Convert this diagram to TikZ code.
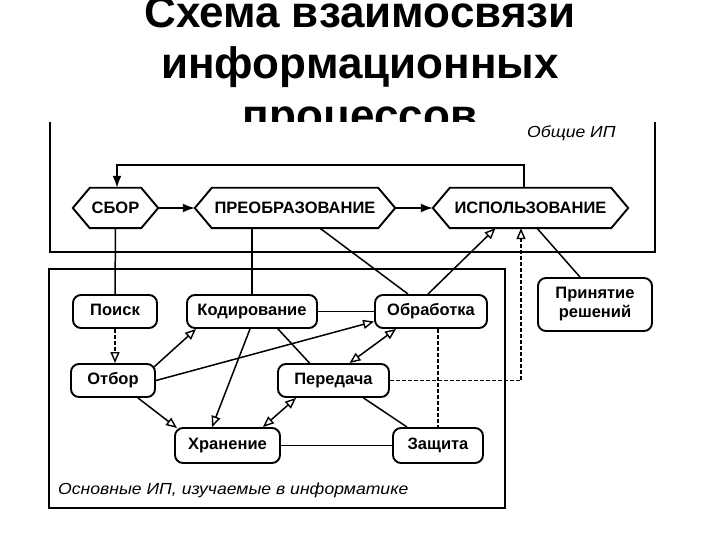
\documentclass[tikz,border=0pt]{standalone}
\usepackage{fontspec}
\usepackage{graphicx}
\setmainfont{Liberation Sans}
\usetikzlibrary{arrows.meta,calc}
\newcommand\wide[1]{\scalebox{1.1}[1]{#1}}
\tikzset{
  rbox/.style={draw, line width=1.9pt, rounded corners=8pt, inner sep=0pt,
    font=\bfseries\fontsize{16.5}{19}\selectfont},
  sbox/.style={rbox, text height=12pt, text depth=3.5pt},
  hexbox/.style={inner sep=0pt, minimum height=40pt,
    font=\bfseries\fontsize{16.5}{19}\selectfont},
  hexline/.style={line width=1.9pt, line join=miter},
  conn/.style={line width=1.5pt},
  dconn/.style={line width=1.5pt, dash pattern=on 4pt off 2pt},
  farrow/.style={-{Latex[length=12pt,width=9pt]}},
  oarrow/.style={-{Triangle[open,length=11pt,width=9pt,line width=1.4pt]}},
  darrow/.style={{Triangle[open,length=11pt,width=9pt,line width=1.4pt]}-{Triangle[open,length=11pt,width=9pt,line width=1.4pt]}},
  frame/.style={line width=2pt},
  boxlabel/.style={font=\itshape\fontsize{16}{18}\selectfont, inner sep=0pt},
  titlefont/.style={font=\bfseries\fontsize{44}{52}\selectfont, inner sep=0pt, anchor=base}
}
\newcommand\hexoutline[1]{%
  \draw[hexline] (#1.west) -- ($(#1.north west)+(17,0)$) -- ($(#1.north east)+(-17,0)$)
    -- (#1.east) -- ($(#1.south east)+(-17,0)$) -- ($(#1.south west)+(17,0)$) -- cycle;}
\begin{document}
\begin{tikzpicture}[x=1pt,y=-1pt]
\useasboundingbox (0,0) rectangle (720,540);
% title
\node[titlefont] (t1) at (360,28) {Схема взаимосвязи};
\node[titlefont] (t2) at (360,79) {информационных};
\node[titlefont] (t3) at (360,131) {процессов};
% white picture area covering the title bottom
\fill[white] (44,122) rectangle (668,525);
% frames
\draw[frame] (50,122) -- (50,252) -- (655,252) -- (655,122);
\draw[frame] (49,269) rectangle (505,508);
\node[boxlabel, anchor=west] (lab1) at (527,133) {\wide{Общие ИП}};
\node[boxlabel, anchor=west] (lab2) at (58,490) {\wide{Основные ИП, изучаемые в информатике}};
% hexagons
\node[hexbox, minimum width=85pt] (sbor) at (115.5,208) {СБОР};
\node[hexbox, minimum width=200pt] (preob) at (295,208) {ПРЕОБРАЗОВАНИЕ};
\node[hexbox, minimum width=195pt] (isp) at (530.5,208) {ИСПОЛЬЗОВАНИЕ};
\hexoutline{sbor}
\hexoutline{preob}
\hexoutline{isp}
% rounded boxes
\node[sbox, minimum width=84pt, minimum height=33pt] (poisk) at (115,311.5) {Поиск};
\node[sbox, minimum width=130pt, minimum height=33pt] (kod) at (252,311.5) {Кодирование};
\node[sbox, minimum width=112pt, minimum height=33pt] (obr) at (431,311.5) {Обработка};
\node[sbox, minimum width=84pt, minimum height=33pt] (otbor) at (113,380.5) {Отбор};
\node[sbox, minimum width=111pt, minimum height=33pt] (pered) at (333.5,380.5) {Передача};
\node[sbox, minimum width=105pt, minimum height=35pt] (hran) at (227.5,445.5) {Хранение};
\node[sbox, minimum width=90pt, minimum height=35pt] (zasch) at (438,445.5) {Защита};
\node[rbox, align=center, minimum width=114pt, minimum height=53pt] (prin) at (595,304.5) {Принятие\\решений};
% top-level connectors
\draw[conn, farrow] (sbor.east) -- (preob.west);
\draw[conn, farrow] (preob.east) -- (isp.west);
\draw[conn, line width=1.9pt, farrow] ($(isp.north)+(-6.5,0)$) -- ++(0,-23) -| ($(sbor.north)+(1.5,0)$);
\draw[conn] (sbor.south) -- (poisk.north);
\draw[conn] (kod.north |- preob.south) -- (kod.north);
\draw[conn] ($(preob.south)+(25,0)$) -- ($(obr.north)+(-23,0)$);
\draw[conn, oarrow] ($(obr.north)+(-3,0)$) -- ($(isp.south)+(-35,0)$);
\draw[dconn, oarrow] (pered.east) -| ($(isp.south)+(-9.5,0)$);
\draw[conn] ($(isp.south)+(6.5,0)$) -- ($(prin.north)+(-15,0)$);
% lower connectors
\draw[dconn, oarrow] (poisk.south) -- (poisk.south |- otbor.north);
\draw[conn, oarrow] ($(otbor.north east)+(-2,4)$) -- ($(kod.south west)+(10,0)$);
\draw[conn, oarrow] (otbor.east) -- ($(obr.west)+(0,10)$);
\draw[conn] (kod.east) -- (obr.west);
\draw[conn, oarrow] ($(kod.south)+(-2,0)$) -- ($(hran.north west)+(38,0)$);
\draw[conn] ($(kod.south)+(26,0)$) -- ($(pered.north)+(-24,0)$);
\draw[conn, oarrow] ($(otbor.south east)+(-18,0)$) -- ($(hran.north west)+(3,1)$);
\draw[conn, darrow] ($(obr.south west)+(22,0)$) -- ($(pered.north)+(16,0)$);
\draw[conn, darrow] ($(pered.south west)+(19,0)$) -- ($(hran.north east)+(-18,0)$);
\draw[conn] ($(pered.south)+(30,0)$) -- ($(zasch.north west)+(15,0)$);
\draw[conn] (hran.east) -- (zasch.west);
\draw[dconn] (zasch.north |- obr.south) -- (zasch.north);
\end{tikzpicture}
\end{document}
